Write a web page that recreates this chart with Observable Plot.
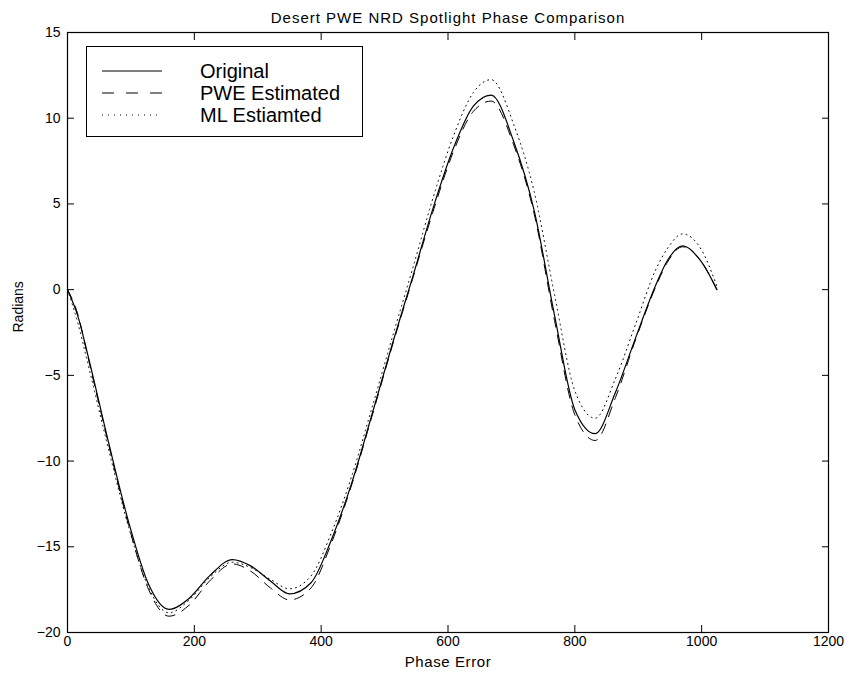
<!DOCTYPE html>
<html>
<head>
<meta charset="utf-8">
<script src="https://cdn.jsdelivr.net/npm/d3@7"></script>
<script src="https://cdn.jsdelivr.net/npm/@observablehq/plot@0.6"></script>
<style>
  html, body { margin: 0; padding: 0; background: #fff; }
  #wrap { position: relative; width: 847px; height: 677px; font-family: "Liberation Sans", Arial, Helvetica, sans-serif; }
  #legend { position: absolute; left: 86px; top: 46px; width: 277px; height: 91px; border: 1px solid #000; background: #fff; box-sizing: border-box; }
  .row { position: absolute; left: 0; height: 22px; width: 100%; }
  .row svg { position: absolute; left: 15px; top: 0; }
  .row span { position: absolute; left: 113px; top: 0; line-height: 22px; font-size: 20px; color: #000; white-space: nowrap; }
</style>
</head>
<body>
<div id="wrap"></div>
<script>
const titleText = "Desert PWE NRD Spotlight Phase Comparison";
const xLabel = "Phase Error";
const yLabel = "Radians";
const seriesNames = ["Original", "PWE Estimated", "ML Estiamted"];
const xTicks = [0, 200, 400, 600, 800, 1000, 1200];
const yTicks = [-20, -15, -10, -5, 0, 5, 10, 15];

const xs = [0, 16, 32, 64, 96, 128, 160, 192, 224, 260, 288, 320, 350, 384, 416, 448, 480, 512, 544, 576, 608, 640, 668, 704, 736, 768, 800, 832, 864, 896, 928, 946, 970, 1000, 1024];
const original = [0, -1.5, -3.8, -8.8, -13.5, -17.2, -18.65, -18.0, -16.7, -15.75, -16.1, -17.0, -17.75, -17.1, -14.6, -11.3, -7.3, -3.2, 0.7, 4.7, 8.2, 10.7, 11.35, 8.6, 4.6, -1.5, -7.0, -8.4, -6.0, -2.8, 0.3, 1.7, 2.55, 1.6, 0];
const pwe = [0, -1.4, -3.9, -8.9, -13.7, -17.5, -19.05, -18.4, -17.0, -16.0, -16.4, -17.4, -18.1, -17.4, -14.8, -11.4, -7.4, -3.3, 0.6, 4.5, 8.0, 10.4, 11.0, 8.4, 4.4, -1.8, -7.3, -8.8, -6.3, -2.9, 0.2, 1.6, 2.5, 1.6, 0];
const ml = [0, -1.9, -4.3, -9.2, -13.8, -17.4, -18.85, -18.1, -16.8, -15.9, -16.2, -16.9, -17.45, -16.7, -14.2, -10.9, -6.9, -2.8, 1.2, 5.3, 8.9, 11.5, 12.25, 9.6, 5.7, -0.3, -5.9, -7.5, -5.2, -2.0, 1.2, 2.4, 3.25, 2.3, 0.2];

const dashes = [null, "10,8", "1,4"];
const seriesValues = [original, pwe, ml];
const rows = (vals) => xs.map((x, i) => ({x, y: vals[i]}));
const fmt = (d) => (d < 0 ? "\u2212" + Math.abs(d) : String(d));

const chart = Plot.plot({
  width: 847,
  height: 677,
  marginLeft: 67,
  marginRight: 19,
  marginTop: 32,
  marginBottom: 45,
  style: {fontFamily: "Liberation Sans, Arial, Helvetica, sans-serif", fontSize: "14px", background: "#fff", color: "#000", overflow: "visible"},
  x: {domain: [0, 1200]},
  y: {domain: [-20, 15]},
  marks: [
    Plot.axisX({anchor: "bottom", ticks: xTicks, tickSize: -7, text: null, label: null, stroke: "#000"}),
    Plot.axisX({anchor: "top", ticks: xTicks, tickSize: -7, text: null, label: null, stroke: "#000"}),
    Plot.axisY({anchor: "left", ticks: yTicks, tickSize: -7, text: null, label: null, stroke: "#000"}),
    Plot.axisY({anchor: "right", ticks: yTicks, tickSize: -7, text: null, label: null, stroke: "#000"}),
    Plot.axisX({anchor: "bottom", ticks: xTicks, tickSize: 0, tickPadding: 4, tickFormat: fmt, label: null, fontSize: 14}),
    Plot.axisY({anchor: "left", ticks: yTicks, tickSize: 0, tickPadding: 7, tickFormat: fmt, label: null, fontSize: 14}),
    ...seriesValues.map((vals, k) => Plot.line(rows(vals), {x: "x", y: "y", stroke: "#000", strokeWidth: k === 0 ? 1.2 : 1, strokeDasharray: dashes[k], curve: "monotone-x"})),
    Plot.frame({stroke: "#000", strokeWidth: 1.2}),
    Plot.text([titleText], {frameAnchor: "top", dy: -20, fontSize: 15, fill: "#000"}),
    Plot.text([xLabel], {frameAnchor: "bottom", dy: 34, fontSize: 15, fill: "#000"}),
    Plot.text([yLabel], {frameAnchor: "left", dx: -49, rotate: -90, fontSize: 14, fill: "#000"})
  ]
});

const wrap = document.getElementById("wrap");
wrap.appendChild(chart);
// widen the title and x label tracking slightly, as in the original rendering
chart.querySelectorAll("text").forEach(t => {
  if (t.textContent === titleText) t.setAttribute("letter-spacing", "1");
  if (t.textContent === xLabel) t.setAttribute("letter-spacing", "0.6");
});

const legend = document.createElement("div");
legend.id = "legend";
seriesNames.forEach((name, k) => {
  const row = document.createElement("div");
  row.className = "row";
  row.style.top = (13 + k * 22) + "px";
  const dash = dashes[k] ? `stroke-dasharray="${dashes[k] === "10,8" ? "12,12" : "1,5"}"` : "";
  row.innerHTML = `<svg width="62" height="22"><line x1="0" x2="60" y1="11" y2="11" stroke="#000" stroke-width="1" ${dash}/></svg><span>${name}</span>`;
  legend.appendChild(row);
});
wrap.appendChild(legend);
</script>
</body>
</html>
